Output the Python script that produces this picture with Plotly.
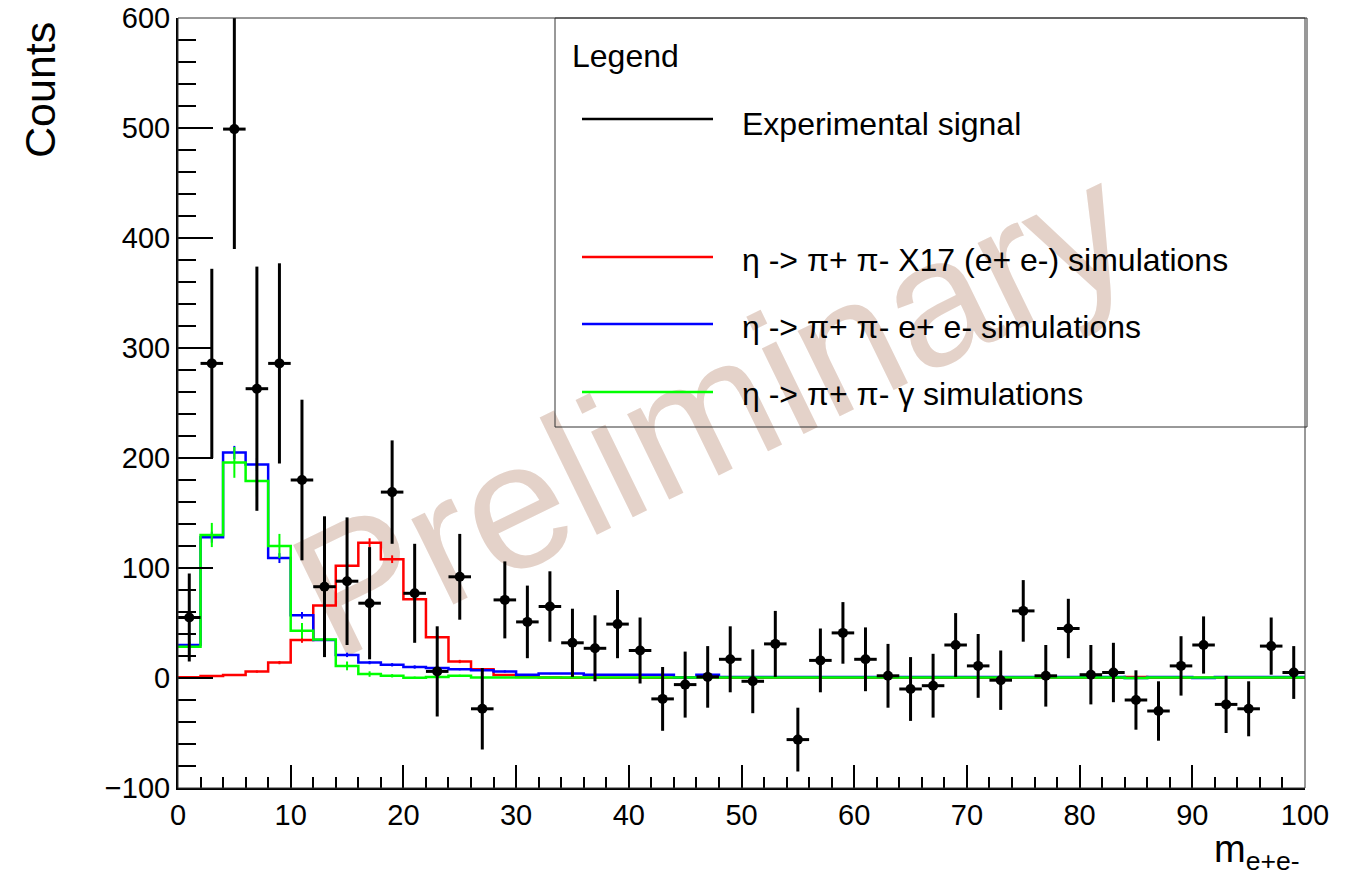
import plotly.graph_objects as go

# ---------------- data ----------------
bin_centers = [1, 3, 5, 7, 9, 11, 13, 15, 17, 19, 21, 23, 25, 27, 29, 31, 33, 35, 37, 39,
               41, 43, 45, 47, 49, 51, 53, 55, 57, 59, 61, 63, 65, 67, 69, 71, 73, 75, 77, 79,
               81, 83, 85, 87, 89, 91, 93, 95, 97, 99]
bin_half_width = [1] * 50

data_counts = [55, 286, 499, 263, 286, 180, 83, 88, 68, 169, 77, 6, 92, -28, 71, 51, 65, 32, 27, 49,
               25, -19, -6, 1, 17, -3, 31, -56, 16, 41, 17, 2, -10, -7, 30, 11, -2, 61, 2, 45,
               3, 5, -20, -30, 11, 30, -24, -28, 29, 5]
data_err = [40, 86, 109, 111, 91, 73, 64, 58, 51, 47, 45, 41, 39, 37, 35, 33, 32, 31, 30, 31,
            30, 29, 30, 28, 30, 29, 30, 29, 29, 28, 29, 29, 29, 29, 29, 29, 27, 28, 28, 27,
            27, 27, 27, 27, 27, 26, 26, 25, 26, 24]

x17_sim = [0.6, 1.8, 2.7, 5.8, 14, 34.5, 66, 102, 123, 108, 71.5, 37, 15, 8, 2.7, 1.0, 0.5, 0.3, 0.3, 0.3,
           0.3, 0.3, 0.3, 0.3, 0.3, 0.3, 0.3, 0.3, 0.3, 0.3, 0.3, 0.3, 0.3, 0.3, 0.3, 0.3, 0.3, 0.3, 0.3, 0.3,
           0.3, 0.3, 0.8, 0.3, 0.3, 0.3, 0.3, 0.3, 0.3, 0.3]
x17_err = [0.3, 0.5, 0.7, 1, 1.5, 2.5, 3, 3.5, 4, 3.5, 3, 2, 1.5, 1, 0.5, 0.3, 0.2, 0, 0, 0,
           0, 0, 0, 0, 0, 0, 0, 0, 0, 0, 0, 0, 0, 0, 0, 0, 0, 0, 0, 0,
           0, 0, 0, 0, 0, 0, 0, 0, 0, 0]

ee_sim = [30, 128, 205, 194, 109, 57, 34.5, 21, 14, 12, 10, 9, 8, 7, 6, 3, 4, 4, 3, 3,
          3, 3, 0.5, 3, 1, 1, 1, 1, 1, 1, 1, 1, 1, 1, 1, 1, 1, 1, 1, 1,
          1, 1, 0, 1, 1, 0, 1, 1, 1, 1]
ee_err = [3, 5, 6, 6, 4.5, 3, 2.5, 2, 1.5, 1.5, 1.5, 1, 1, 1, 1, 0.5, 0.5, 0.5, 0.5, 0.5,
          0.5, 0.5, 0, 0.5, 0.3, 0.3, 0.3, 0.3, 0.3, 0.3, 0.3, 0.3, 0.3, 0.3, 0.3, 0.3, 0.3, 0.3, 0.3, 0.3,
          0.3, 0.3, 0, 0.3, 0.3, 0, 0.3, 0.3, 0.3, 0.3]

gamma_sim = [28.5, 130, 196, 179, 120, 43, 35, 11, 3.6, 2, 0.3, 1, 2, 0.4, 0.4, 0.4, 0.4, 0.4, 0.4, 0.4,
             0.4, 0.4, 0.4, 0.4, 0.4, 0.4, 0.4, 0.4, 0.4, 0.4, 0.4, 0.4, 0.4, 0.4, 0.4, 0.4, 0.4, 0.4, 0.4, 0.4,
             0.4, 0.4, 0, 0.4, 0.4, 0.4, 0.4, 0.4, 0.4, 0.4]
gamma_err = [7, 11, 14, 14, 11, 7, 6, 4, 2.5, 1.5, 1, 1, 1, 0.5, 0.5, 0, 0, 0, 0, 0,
             0, 0, 0, 0, 0, 0, 0, 0, 0, 0, 0, 0, 0, 0, 0, 0, 0, 0, 0, 0,
             0, 0, 0, 0, 0, 0, 0, 0, 0, 0]

legend_labels = ["Experimental signal",
                 "η -> π+ π- X17 (e+ e-) simulations",
                 "η -> π+ π- e+ e- simulations",
                 "η -> π+ π- γ simulations"]
x_ticks = [0, 10, 20, 30, 40, 50, 60, 70, 80, 90, 100]
y_ticks = [-100, 0, 100, 200, 300, 400, 500, 600]

FONT = "Liberation Sans, Arial, Helvetica, sans-serif"

# bin edges derived from bin centers/half widths
edges = [c - h for c, h in zip(bin_centers, bin_half_width)] + [bin_centers[-1] + bin_half_width[-1]]

fig = go.Figure()

hists = [(x17_sim, x17_err, "#ff0000"), (ee_sim, ee_err, "#0000ff"), (gamma_sim, gamma_err, "#00ff00")]
for vals, errs, col in hists:
    fig.add_trace(go.Scatter(x=edges, y=list(vals) + [vals[-1]], mode="lines",
                             line=dict(color=col, width=2.5, shape="hv"),
                             hoverinfo="skip", showlegend=False))
    fig.add_trace(go.Scatter(x=bin_centers, y=vals, mode="markers",
                             marker=dict(size=1, color=col, opacity=0),
                             error_y=dict(type="data", array=errs, color=col, thickness=2, width=0),
                             hoverinfo="skip", showlegend=False))

fig.add_trace(go.Scatter(x=bin_centers, y=data_counts, mode="markers",
                         marker=dict(size=10, color="black"),
                         error_y=dict(type="data", array=data_err, color="black", thickness=3, width=0),
                         error_x=dict(type="data", array=bin_half_width, color="black", thickness=3, width=0),
                         showlegend=False, name=legend_labels[0]))

# --------------- watermark ---------------
fig.add_shape(type="rect", xref="paper", yref="paper", x0=0.4567, x1=0.4767, y0=0.5017, y1=0.5217,
              line=dict(width=0), fillcolor="rgba(0,0,0,0)", layer="below",
              label=dict(text="Preliminary", textangle=-26, textposition="middle center",
                         font=dict(size=180, color="#e4d2c9", family=FONT)))

# --------------- frame ---------------
fig.add_shape(type="rect", xref="paper", yref="paper", x0=0, x1=1, y0=0, y1=1,
              line=dict(color="#333333", width=1), layer="above")

# --------------- legend (manual) ---------------
W, H, L, T = 1355, 882, 178, 18
PW, PH = 1127, 770


def px(xp):
    return (xp - L) / PW


def py(yp):
    return (T + PH - yp) / PH


fig.add_shape(type="rect", xref="paper", yref="paper", x0=px(555), x1=px(1307), y0=py(427), y1=py(18),
              line=dict(color="#333333", width=1), layer="above")
fig.add_annotation(text="Legend", xref="paper", yref="paper", x=px(570), y=py(56),
                   xanchor="left", yanchor="middle", showarrow=False,
                   font=dict(size=32, color="black", family=FONT))
entry_cols = ["black", "#ff0000", "#0000ff", "#00ff00"]
entry_line_y = [119, 257, 324, 392]
entry_text_y = [124.5, 260, 327, 394]
for lab, col, ly, ty in zip(legend_labels, entry_cols, entry_line_y, entry_text_y):
    fig.add_shape(type="line", xref="paper", yref="paper", x0=px(582), x1=px(713), y0=py(ly), y1=py(ly),
                  line=dict(color=col, width=2.5), layer="above")
    fig.add_annotation(text=lab, xref="paper", yref="paper", x=px(740), y=py(ty),
                       xanchor="left", yanchor="middle", showarrow=False,
                       font=dict(size=32, color="black", family=FONT))

# --------------- axis titles ---------------
fig.add_annotation(text="Counts", xref="paper", yref="paper", x=px(40), y=py(90),
                   xanchor="center", yanchor="middle", textangle=-90, showarrow=False,
                   font=dict(size=43, color="black", family=FONT))
fig.add_annotation(text="m<sub>e+e-</sub>", xref="paper", yref="paper", x=px(1302), y=py(826),
                   xanchor="right", yanchor="top", showarrow=False,
                   font=dict(size=38, color="black", family=FONT))

fig.update_xaxes(range=[0, 100], tickvals=x_ticks, ticktext=[str(v) for v in x_ticks],
                 ticks="inside", ticklen=23, tickwidth=1.5, tickcolor="black",
                 minor=dict(ticks="inside", dtick=2, ticklen=11, tickwidth=1.5, tickcolor="black"),
                 showline=True, linecolor="black", linewidth=2, showgrid=False, zeroline=False,
                 tickfont=dict(size=29, color="black", family=FONT))
fig.update_yaxes(range=[-100, 600], tickvals=y_ticks, ticktext=[str(v).replace("-", "−") for v in y_ticks],
                 ticks="inside", ticklen=35, tickwidth=1.5, tickcolor="black",
                 minor=dict(ticks="inside", dtick=20, ticklen=18, tickwidth=1.5, tickcolor="black"),
                 showline=True, linecolor="black", linewidth=2, showgrid=False, zeroline=False,
                 tickfont=dict(size=29, color="black", family=FONT))

fig.update_layout(width=W, height=H, margin=dict(l=L, r=W - L - PW, t=T, b=H - T - PH, autoexpand=False),
                  paper_bgcolor="white", plot_bgcolor="white", showlegend=False,
                  font=dict(family=FONT, color="black"))

fig.write_html("out.html")
